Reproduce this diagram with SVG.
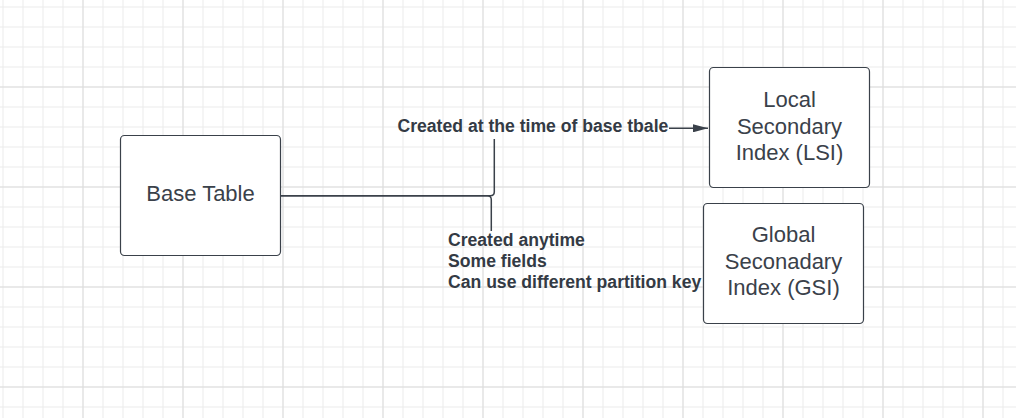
<svg xmlns="http://www.w3.org/2000/svg" width="1016" height="418" viewBox="0 0 1016 418">
<defs>
<pattern id="minor" x="2.5" y="6.5" width="20" height="20" patternUnits="userSpaceOnUse">
<path d="M0.5 0V20M0 0.5H20" stroke="#ebebeb" stroke-width="1" fill="none"/>
</pattern>
<pattern id="major" x="82.5" y="86.5" width="100" height="100" patternUnits="userSpaceOnUse">
<path d="M0.5 0V100M0 0.5H100" stroke="#dcdcdc" stroke-width="1" fill="none"/>
</pattern>
<marker id="arrow" markerWidth="15" markerHeight="8" refX="15" refY="4" orient="auto" markerUnits="userSpaceOnUse">
<path d="M0 0L15 4L0 8Z" fill="#3a414a"/>
</marker>
</defs>
<style>
.node rect{fill:#ffffff;stroke:#3a414a;stroke-width:1.2}
.node text{font-family:"Liberation Sans",Arial,sans-serif;font-size:22px;fill:#3a414a;text-anchor:middle}
.conn path{fill:none;stroke:#3a414a;stroke-width:1.5}
.lbl{font-family:"Liberation Sans",Arial,sans-serif;font-size:17.6px;font-weight:bold;fill:#333a44}
</style>
<rect width="1016" height="418" fill="#ffffff"/>
<rect width="1016" height="418" fill="url(#minor)"/>
<rect width="1016" height="418" fill="url(#major)"/>
<g id="connectors" class="conn">
<path d="M280.5 195.7H490.3Q494.3 195.7 494.3 191.7V139"/>
<path d="M669 128.3H708" marker-end="url(#arrow)"/>
<path d="M280.5 195.7H487.3Q491.3 195.7 491.3 199.7V231"/>
</g>
<g id="label-lsi">
<text class="lbl" x="397.5" y="132">Created at the time of base tbale</text>
</g>
<g id="label-gsi">
<text class="lbl" x="448" y="246">Created anytime</text>
<text class="lbl" x="448" y="267">Some fields</text>
<text class="lbl" x="448" y="288">Can use different partition key</text>
</g>
<g id="base-table" class="node">
<rect x="120.5" y="135.5" width="160" height="120" rx="4"/>
<text x="200.5" y="201">Base Table</text>
</g>
<g id="lsi" class="node">
<rect x="709.5" y="67.5" width="160" height="120" rx="4"/>
<text x="789.5" y="107">Local</text>
<text x="789.5" y="133.5">Secondary</text>
<text x="789.5" y="160">Index (LSI)</text>
</g>
<g id="gsi" class="node">
<rect x="703.5" y="203.5" width="160" height="120" rx="4"/>
<text x="783.5" y="242">Global</text>
<text x="783.5" y="268.5">Seconadary</text>
<text x="783.5" y="295">Index (GSI)</text>
</g>
</svg>
